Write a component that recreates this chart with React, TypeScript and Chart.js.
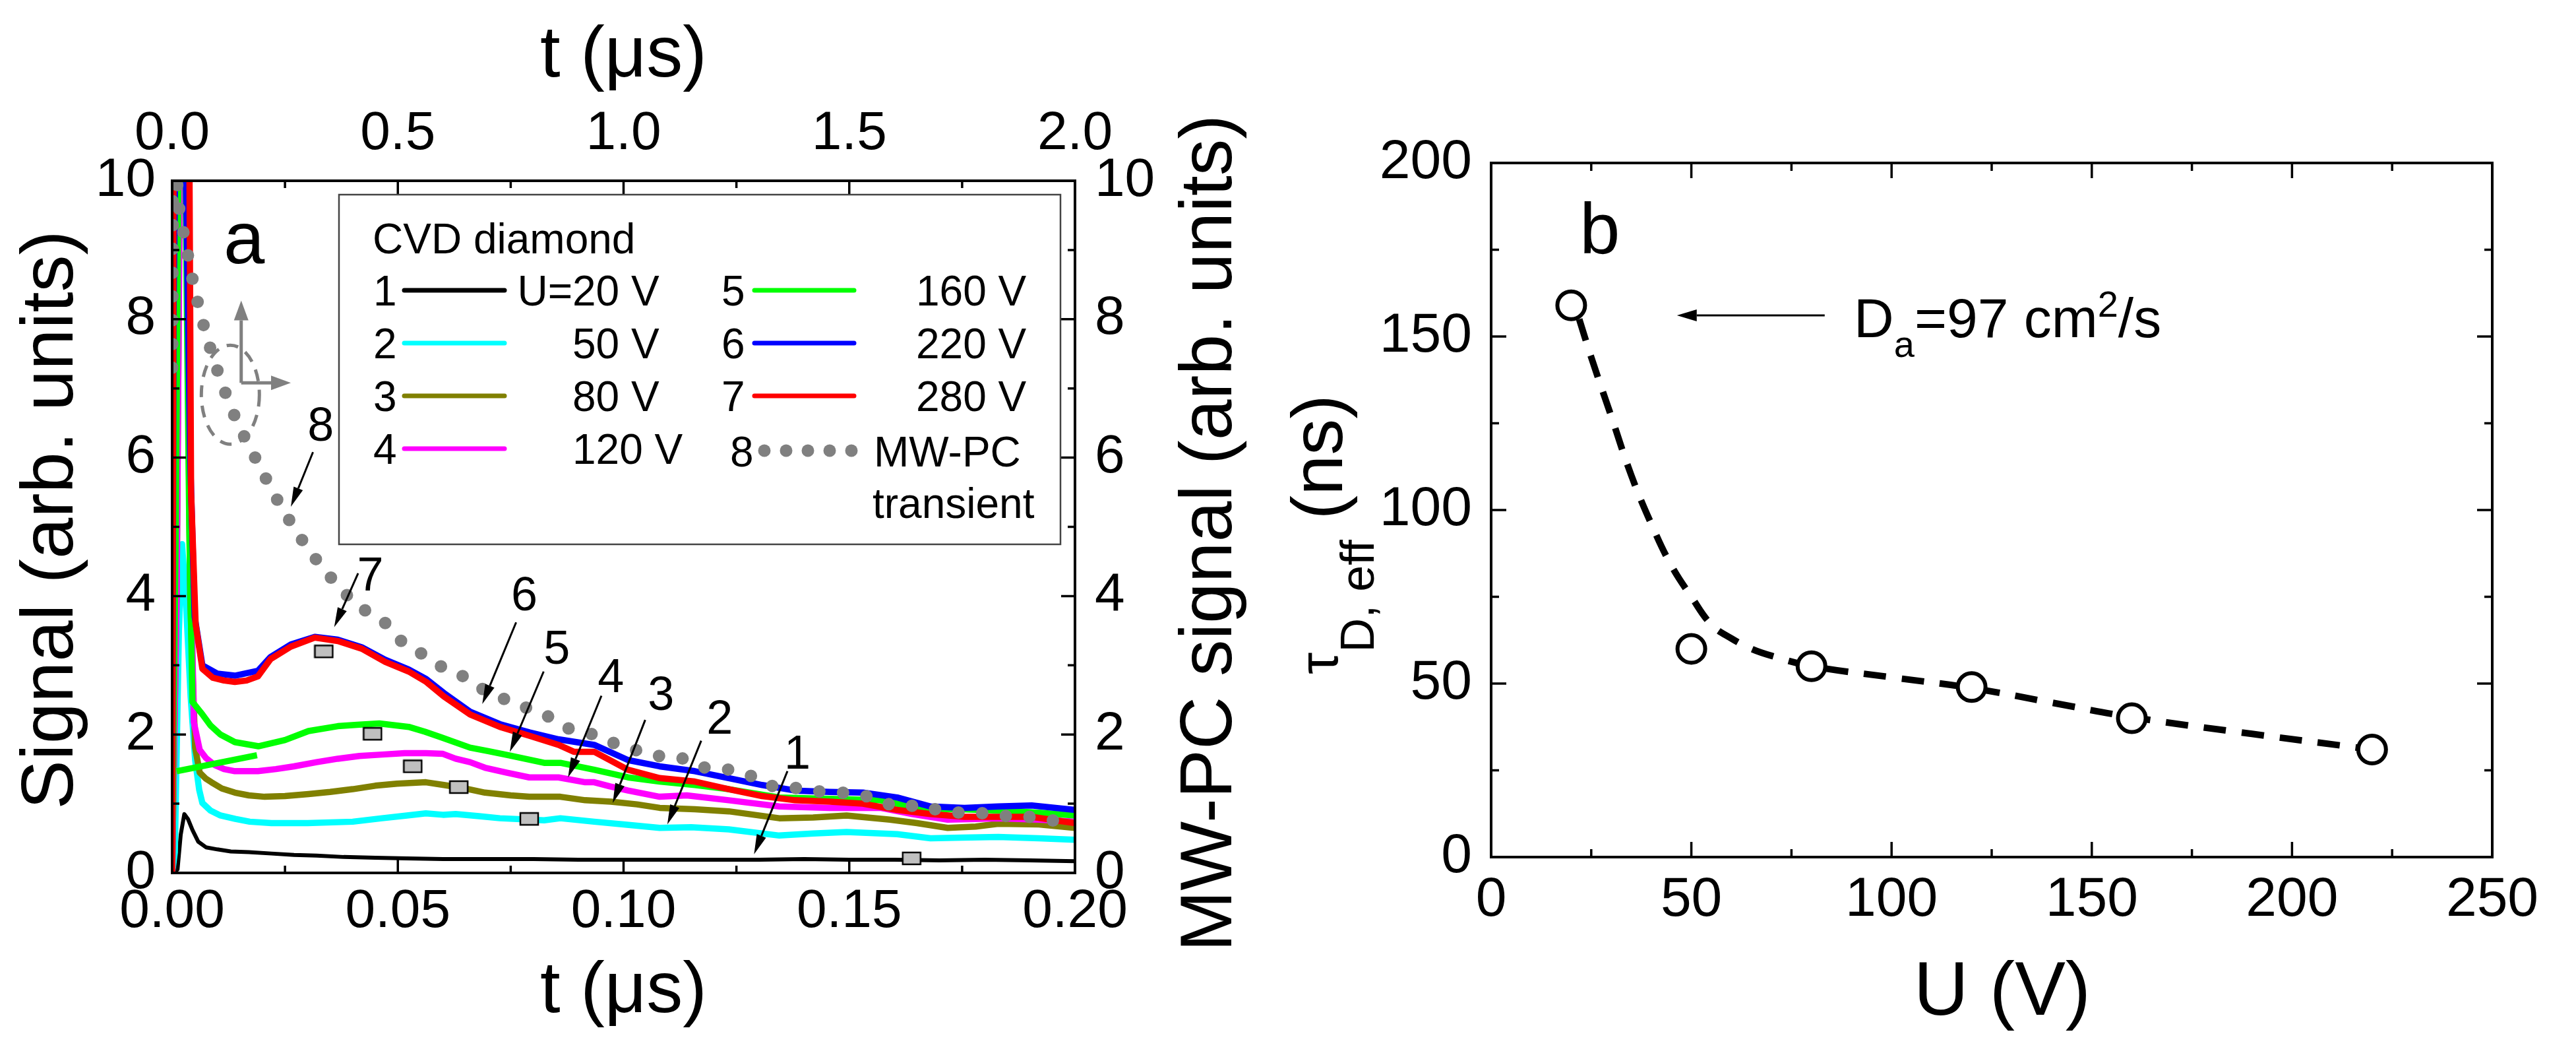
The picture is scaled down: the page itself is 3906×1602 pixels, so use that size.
import React, { useEffect, useRef } from 'react';
import { Chart, registerables } from 'chart.js';

Chart.register(...registerables);

const FONT = "'Liberation Sans', Arial, Helvetica, sans-serif";

// ---------------- Panel (a): signal transients, t in µs (bottom axis) ----------------
const t20 = [0, 0.0012, 0.0019, 0.0027, 0.0035, 0.0045, 0.0058, 0.0075, 0.010, 0.013, 0.017, 0.022, 0.027, 0.032, 0.038, 0.045, 0.052, 0.060, 0.070, 0.080, 0.090, 0.100, 0.110, 0.120, 0.130, 0.140, 0.150, 0.160, 0.170, 0.180, 0.190, 0.200];
const s20 = [0, 0.05, 0.55, 0.85, 0.78, 0.62, 0.45, 0.37, 0.34, 0.31, 0.30, 0.28, 0.26, 0.25, 0.23, 0.22, 0.21, 0.20, 0.20, 0.20, 0.19, 0.19, 0.19, 0.19, 0.19, 0.20, 0.19, 0.19, 0.18, 0.19, 0.18, 0.17];

const t50 = [0, 0.0006, 0.0015, 0.0022, 0.0030, 0.0041, 0.0051, 0.0060, 0.0067, 0.0085, 0.0107, 0.014, 0.0172, 0.022, 0.030, 0.040, 0.0465, 0.052, 0.0562, 0.060, 0.0628, 0.068, 0.0726, 0.0824, 0.086, 0.0935, 0.100, 0.108, 0.115, 0.1233, 0.1345, 0.142, 0.1494, 0.1606, 0.168, 0.175, 0.183, 0.192, 0.200];
const s50 = [0, 0.3, 3.5, 4.75, 4.0, 2.55, 1.63, 1.2, 1.01, 0.90, 0.83, 0.78, 0.74, 0.72, 0.72, 0.74, 0.79, 0.83, 0.86, 0.84, 0.85, 0.82, 0.79, 0.76, 0.79, 0.74, 0.70, 0.65, 0.66, 0.63, 0.54, 0.57, 0.59, 0.56, 0.50, 0.51, 0.52, 0.50, 0.48];

const t80 = [0, 0.0010, 0.0018, 0.0030, 0.0040, 0.0051, 0.0061, 0.0075, 0.0087, 0.0110, 0.0139, 0.0170, 0.0205, 0.025, 0.0302, 0.035, 0.040, 0.045, 0.0498, 0.0562, 0.0602, 0.065, 0.0693, 0.075, 0.0791, 0.086, 0.0915, 0.0972, 0.103, 0.108, 0.1158, 0.1233, 0.1345, 0.142, 0.1494, 0.159, 0.165, 0.1718, 0.178, 0.183, 0.192, 0.200];
const s80 = [0, 4, 11, 11, 4, 1.81, 1.45, 1.36, 1.31, 1.22, 1.16, 1.12, 1.10, 1.11, 1.14, 1.17, 1.21, 1.26, 1.29, 1.31, 1.27, 1.22, 1.16, 1.12, 1.10, 1.10, 1.05, 1.03, 0.99, 0.94, 0.92, 0.89, 0.79, 0.80, 0.83, 0.77, 0.72, 0.65, 0.67, 0.71, 0.70, 0.65];

const t120 = [0, 0.0010, 0.0018, 0.0030, 0.0040, 0.0048, 0.0061, 0.0075, 0.0094, 0.0115, 0.0139, 0.019, 0.023, 0.027, 0.032, 0.0367, 0.0415, 0.0465, 0.0515, 0.0562, 0.0600, 0.0628, 0.066, 0.0693, 0.074, 0.0791, 0.0856, 0.0915, 0.0935, 0.097, 0.101, 0.108, 0.114, 0.1233, 0.1345, 0.1457, 0.1569, 0.164, 0.1718, 0.178, 0.183, 0.192, 0.200];
const s120 = [0, 4, 11, 11, 5, 2.18, 1.78, 1.66, 1.56, 1.50, 1.47, 1.47, 1.50, 1.54, 1.60, 1.65, 1.69, 1.71, 1.73, 1.73, 1.72, 1.65, 1.60, 1.52, 1.45, 1.38, 1.38, 1.31, 1.31, 1.25, 1.19, 1.10, 1.12, 1.05, 0.96, 0.94, 0.94, 0.85, 0.77, 0.78, 0.79, 0.77, 0.74];

const t160 = [0, 0.0008, 0.0015, 0.0028, 0.0038, 0.0045, 0.0067, 0.0085, 0.0107, 0.0139, 0.0191, 0.025, 0.0302, 0.0367, 0.041, 0.0459, 0.0524, 0.056, 0.0596, 0.066, 0.070, 0.0745, 0.0824, 0.086, 0.0935, 0.101, 0.108, 0.1158, 0.1233, 0.1345, 0.140, 0.1457, 0.1569, 0.162, 0.168, 0.175, 0.183, 0.192, 0.200];
const s160 = [0, 5, 11, 11, 5, 2.47, 2.29, 2.13, 2.0, 1.89, 1.83, 1.92, 2.05, 2.12, 2.14, 2.16, 2.11, 2.04, 1.96, 1.81, 1.76, 1.70, 1.59, 1.59, 1.49, 1.38, 1.32, 1.27, 1.21, 1.09, 1.08, 1.07, 1.05, 0.98, 0.92, 0.92, 0.90, 0.87, 0.83];

// short straight green segment near the origin
const t160seg = [0.001, 0.0188];
const s160seg = [1.47, 1.70];

const t220 = [0, 0.0003, 0.0010, 0.0020, 0.0026, 0.0040, 0.0050, 0.0067, 0.0100, 0.0139, 0.019, 0.0218, 0.0263, 0.0316, 0.0367, 0.042, 0.0472, 0.0524, 0.0563, 0.0602, 0.066, 0.0726, 0.0792, 0.0856, 0.0935, 0.101, 0.108, 0.1158, 0.1233, 0.1307, 0.138, 0.1457, 0.153, 0.1606, 0.168, 0.1755, 0.183, 0.1904, 0.200];
const s220 = [0, 8, 12, 12, 12, 6, 3.7, 3.0, 2.88, 2.85, 2.92, 3.12, 3.30, 3.41, 3.37, 3.26, 3.08, 2.94, 2.80, 2.60, 2.33, 2.15, 2.03, 1.93, 1.85, 1.63, 1.54, 1.47, 1.37, 1.27, 1.19, 1.17, 1.16, 1.09, 0.96, 0.94, 0.96, 0.975, 0.91];

const t280 = [0, 0.0003, 0.0010, 0.0020, 0.0030, 0.0037, 0.0042, 0.0052, 0.0067, 0.0090, 0.0115, 0.0139, 0.0165, 0.019, 0.0218, 0.0263, 0.0316, 0.0367, 0.042, 0.0472, 0.0524, 0.0563, 0.0602, 0.066, 0.0726, 0.0792, 0.0856, 0.089, 0.0935, 0.101, 0.108, 0.1158, 0.1233, 0.1307, 0.138, 0.1457, 0.153, 0.1606, 0.168, 0.1755, 0.183, 0.1904, 0.200];
const s280 = [0, 10, 13, 13, 13, 12, 5.5, 3.6, 2.95, 2.82, 2.78, 2.76, 2.78, 2.84, 3.09, 3.27, 3.40, 3.35, 3.24, 3.05, 2.91, 2.76, 2.55, 2.29, 2.11, 1.98, 1.85, 1.75, 1.75, 1.49, 1.37, 1.32, 1.21, 1.11, 1.05, 1.03, 1.00, 0.91, 0.85, 0.81, 0.81, 0.81, 0.72];

// MW-PC transient, t in µs on the top axis, values on the right axis
const tMW = [0, 0.004, 0.0139, 0.031, 0.050, 0.0745, 0.105, 0.1426, 0.191, 0.2435, 0.305, 0.377, 0.426, 0.472, 0.511, 0.557, 0.602, 0.651, 0.697, 0.745, 0.795, 0.843, 0.887, 0.933, 0.981, 1.03, 1.078, 1.127, 1.175, 1.224, 1.27, 1.32, 1.369, 1.416, 1.464, 1.512, 1.561, 1.61, 1.658, 1.706, 1.755, 1.803, 1.852, 1.90, 1.949, 2.0];
const sMW = [7.3, 11, 9.69, 9.06, 8.43, 7.80, 7.17, 6.54, 5.91, 5.27, 4.65, 4.08, 3.80, 3.61, 3.33, 3.15, 2.96, 2.82, 2.62, 2.49, 2.36, 2.23, 2.06, 2.0, 1.87, 1.77, 1.69, 1.66, 1.53, 1.50, 1.44, 1.27, 1.24, 1.19, 1.16, 1.15, 1.06, 0.95, 0.98, 0.89, 0.87, 0.86, 0.82, 0.81, 0.76, 0.72];

// grey rectangular markers on the curves
const markT = [0.0336, 0.0444, 0.0533, 0.0635, 0.0791, 0.1638];
const markS = [3.20, 2.01, 1.54, 1.24, 0.78, 0.21];

const seriesNums = ['1', '2', '3', '4', '5', '6', '7'];
const seriesVolts = ['20 V', '50 V', '80 V', '120 V', '160 V', '220 V', '280 V'];
const seriesColors = ['#000000', '#00ffff', '#808000', '#ff00ff', '#00ff00', '#0000ff', '#ff0000'];

const bottomTicksA = ['0.00', '0.05', '0.10', '0.15', '0.20'];
const topTicksA = ['0.0', '0.5', '1.0', '1.5', '2.0'];

// callout numbers with arrows (bottom-axis µs, left-axis units)
const calloutText = ['8', '7', '6', '5', '4', '3', '2', '1'];
const calloutLabelT = [0.0329, 0.0439, 0.0780, 0.0852, 0.0972, 0.1083, 0.1213, 0.1385];
const calloutLabelS = [6.43, 4.27, 3.98, 3.21, 2.80, 2.54, 2.20, 1.70];
const calloutFromT = [0.0312, 0.0412, 0.0762, 0.0823, 0.0951, 0.1048, 0.1172, 0.1363];
const calloutFromS = [6.08, 4.33, 3.62, 2.91, 2.56, 2.21, 1.91, 1.47];
const calloutToT = [0.0263, 0.0359, 0.0687, 0.0748, 0.0877, 0.0976, 0.1097, 0.1289];
const calloutToS = [5.29, 3.55, 2.44, 1.75, 1.38, 1.01, 0.70, 0.27];

// ---------------- Panel (b) ----------------
const voltageU = [20, 50, 80, 120, 160, 220];
const tauEff = [159, 60, 55, 49, 40, 31];
const fitU = [22, 25, 30, 35, 40, 45, 50, 55, 60, 65, 70, 80, 100, 120, 140, 160, 190, 220];
const fitTau = [155, 144, 127, 110, 96, 84, 75, 67, 63, 60, 58, 55, 51.8, 48.7, 44.5, 40.3, 35.5, 31];

const pts = (xs: number[], ys: number[]) => xs.map((x, i) => ({ x, y: ys[i] }));

function drawTicks(ctx: CanvasRenderingContext2D, scale: any, side: string, a: any, majorLen: number, minorLen: number) {
  const vals: number[] = scale.ticks.map((t: any) => t.value);
  const items: [number, boolean][] = [];
  vals.forEach((v, i) => {
    items.push([v, true]);
    if (i < vals.length - 1) items.push([(v + vals[i + 1]) / 2, false]);
  });
  ctx.beginPath();
  items.forEach(([v, major]) => {
    const p = scale.getPixelForValue(v);
    const len = major ? majorLen : minorLen;
    if (side === 'bottom') { ctx.moveTo(p, a.bottom); ctx.lineTo(p, a.bottom - len); }
    if (side === 'top') { ctx.moveTo(p, a.top); ctx.lineTo(p, a.top + len); }
    if (side === 'left') { ctx.moveTo(a.left, p); ctx.lineTo(a.left + len, p); }
    if (side === 'right') { ctx.moveTo(a.right, p); ctx.lineTo(a.right - len, p); }
  });
  ctx.stroke();
}

function arrow(ctx: CanvasRenderingContext2D, x1: number, y1: number, x2: number, y2: number, color: string, lw: number, hl: number, hw: number) {
  const ang = Math.atan2(y2 - y1, x2 - x1);
  const bx = x2 - hl * Math.cos(ang);
  const by = y2 - hl * Math.sin(ang);
  ctx.strokeStyle = color;
  ctx.fillStyle = color;
  ctx.lineWidth = lw;
  ctx.beginPath();
  ctx.moveTo(x1, y1);
  ctx.lineTo(bx, by);
  ctx.stroke();
  ctx.beginPath();
  ctx.moveTo(x2, y2);
  ctx.lineTo(bx + (hw / 2) * Math.sin(ang), by - (hw / 2) * Math.cos(ang));
  ctx.lineTo(bx - (hw / 2) * Math.sin(ang), by + (hw / 2) * Math.cos(ang));
  ctx.closePath();
  ctx.fill();
}

function rotText(ctx: CanvasRenderingContext2D, text: string, baseX: number, centerY: number, size: number) {
  ctx.save();
  ctx.translate(baseX, centerY);
  ctx.rotate(-Math.PI / 2);
  ctx.font = `${size}px ${FONT}`;
  ctx.textAlign = 'center';
  ctx.textBaseline = 'alphabetic';
  ctx.fillStyle = '#000';
  ctx.fillText(text, 0, 0);
  ctx.restore();
}

function makeRectMarker() {
  const c = document.createElement('canvas');
  c.width = 31;
  c.height = 22;
  const g = c.getContext('2d')!;
  g.fillStyle = '#c0c0c0';
  g.fillRect(2, 2, 27, 18);
  g.strokeStyle = '#000';
  g.lineWidth = 2.5;
  g.strokeRect(2, 2, 27, 18);
  return c;
}

const decorA = {
  id: 'decorA',
  afterDatasetsDraw(chart: any) {
    const ctx: CanvasRenderingContext2D = chart.ctx;
    const a = chart.chartArea;
    const sx = chart.scales.x, sy = chart.scales.y, sx2 = chart.scales.x2, sy2 = chart.scales.y2;
    ctx.save();
    ctx.lineCap = 'butt';
    ctx.strokeStyle = '#000';
    ctx.lineWidth = 3.5;
    drawTicks(ctx, sx, 'bottom', a, 21, 11);
    drawTicks(ctx, sx2, 'top', a, 21, 11);
    drawTicks(ctx, sy, 'left', a, 21, 11);
    drawTicks(ctx, sy2, 'right', a, 21, 11);
    ctx.lineWidth = 4;
    ctx.strokeRect(a.left, a.top, a.right - a.left, a.bottom - a.top);

    // axis titles
    ctx.fillStyle = '#000';
    ctx.font = `110px ${FONT}`;
    ctx.textAlign = 'center';
    ctx.textBaseline = 'alphabetic';
    const cx = (a.left + a.right) / 2;
    ctx.fillText('t (\u03bcs)', cx, 1534);
    ctx.fillText('t (\u03bcs)', cx, 116);
    rotText(ctx, 'Signal (arb. units)', 110, 788, 112);
    rotText(ctx, 'MW-PC signal (arb. units)', 1867, 808, 111);

    // panel letter
    ctx.font = `112px ${FONT}`;
    ctx.textAlign = 'left';
    ctx.fillText('a', sx.getPixelForValue(0.0114), sy.getPixelForValue(8.81));

    // grey axis-indicator icon with dashed ellipse
    const ox = sx.getPixelForValue(0.0153), oy = sy.getPixelForValue(7.08);
    ctx.save();
    ctx.setLineDash([18, 13]);
    ctx.strokeStyle = '#808080';
    ctx.lineWidth = 5;
    ctx.beginPath();
    ctx.ellipse(sx.getPixelForValue(0.0129), sy.getPixelForValue(6.91), 44, 75, 0, 0, Math.PI * 2);
    ctx.stroke();
    ctx.restore();
    arrow(ctx, ox, oy, ox, sy.getPixelForValue(8.27), '#808080', 5, 30, 22);
    arrow(ctx, ox, oy, sx.getPixelForValue(0.0263), oy, '#808080', 5, 30, 22);

    // callouts
    ctx.font = `72px ${FONT}`;
    ctx.textAlign = 'center';
    ctx.textBaseline = 'middle';
    calloutText.forEach((txt, i) => {
      ctx.fillStyle = '#000';
      ctx.fillText(txt, sx.getPixelForValue(calloutLabelT[i]), sy.getPixelForValue(calloutLabelS[i]));
      arrow(ctx, sx.getPixelForValue(calloutFromT[i]), sy.getPixelForValue(calloutFromS[i]),
        sx.getPixelForValue(calloutToT[i]), sy.getPixelForValue(calloutToS[i]), '#000', 3, 30, 15);
    });

    // legend box
    ctx.fillStyle = '#fff';
    ctx.fillRect(514, 295, 1094, 530);
    ctx.strokeStyle = '#444';
    ctx.lineWidth = 2.5;
    ctx.strokeRect(514, 295, 1094, 530);
    ctx.fillStyle = '#000';
    ctx.font = `64px ${FONT}`;
    ctx.textAlign = 'left';
    ctx.textBaseline = 'alphabetic';
    ctx.fillText('CVD diamond', 565, 384);
    seriesNums.forEach((num, i) => {
      const left = i < 4;
      const row = left ? i : i - 4;
      const yc = 440 + 80 * row;
      const base = yc + 23;
      ctx.fillStyle = '#000';
      ctx.textAlign = 'left';
      ctx.fillText(num, left ? 566 : 1094, base);
      ctx.strokeStyle = seriesColors[i];
      ctx.lineWidth = 7;
      ctx.lineCap = 'round';
      ctx.beginPath();
      ctx.moveTo(left ? 613 : 1144, yc);
      ctx.lineTo(left ? 765 : 1295, yc);
      ctx.stroke();
      ctx.lineCap = 'butt';
      ctx.fillText(seriesVolts[i], left ? 868 : 1389, base);
      if (i === 0) {
        ctx.textAlign = 'right';
        ctx.fillText('U=', 868, base);
      }
    });
    ctx.textAlign = 'left';
    ctx.fillText('8', 1107, 707);
    ctx.fillStyle = '#808080';
    for (let k = 0; k < 5; k++) {
      ctx.beginPath();
      ctx.arc(1159 + 33 * k, 683, 9.5, 0, Math.PI * 2);
      ctx.fill();
    }
    ctx.fillStyle = '#000';
    ctx.fillText('MW-PC', 1325, 707);
    ctx.fillText('transient', 1323, 785);
    ctx.restore();
  },
};

const decorB = {
  id: 'decorB',
  afterDatasetsDraw(chart: any) {
    const ctx: CanvasRenderingContext2D = chart.ctx;
    const a = chart.chartArea;
    const sx = chart.scales.x, sy = chart.scales.y;
    ctx.save();
    ctx.strokeStyle = '#000';
    ctx.lineWidth = 3.5;
    drawTicks(ctx, sx, 'bottom', a, 23, 12);
    drawTicks(ctx, sx, 'top', a, 23, 12);
    drawTicks(ctx, sy, 'left', a, 23, 12);
    drawTicks(ctx, sy, 'right', a, 23, 12);
    ctx.lineWidth = 4;
    ctx.strokeRect(a.left, a.top, a.right - a.left, a.bottom - a.top);

    ctx.fillStyle = '#000';
    ctx.font = `115px ${FONT}`;
    ctx.textAlign = 'center';
    ctx.textBaseline = 'alphabetic';
    ctx.fillText('U (V)', (a.left + a.right) / 2 + 16, 1538);

    // y title: tau_{D, eff} (ns), reading bottom to top
    ctx.save();
    ctx.translate(78, 1022);
    ctx.rotate(-Math.PI / 2);
    ctx.textAlign = 'left';
    ctx.font = `84px ${FONT}`;
    ctx.fillText('\u03c4', 0, 0);
    let off = ctx.measureText('\u03c4').width;
    ctx.font = `72px ${FONT}`;
    ctx.fillText('D, eff', off, 55);
    off += ctx.measureText('D, eff').width;
    ctx.font = `110px ${FONT}`;
    ctx.fillText(' (ns)', off, 7);
    ctx.restore();

    // panel letter
    ctx.font = `110px ${FONT}`;
    ctx.textAlign = 'left';
    ctx.fillText('b', sx.getPixelForValue(22.1), sy.getPixelForValue(174));

    // D_a annotation
    arrow(ctx, sx.getPixelForValue(83.3), sy.getPixelForValue(156.1), sx.getPixelForValue(46.4), sy.getPixelForValue(156.1), '#000', 3, 30, 18);
    let x = sx.getPixelForValue(90.6);
    const base = sy.getPixelForValue(149.8);
    ctx.fillStyle = '#000';
    ctx.font = `84px ${FONT}`;
    ctx.fillText('D', x, base);
    x += ctx.measureText('D').width;
    ctx.font = `56px ${FONT}`;
    ctx.fillText('a', x, base + 30);
    x += ctx.measureText('a').width;
    ctx.font = `84px ${FONT}`;
    ctx.fillText('=97 cm', x, base);
    x += ctx.measureText('=97 cm').width;
    ctx.font = `56px ${FONT}`;
    ctx.fillText('2', x, base - 31);
    x += ctx.measureText('2').width;
    ctx.font = `84px ${FONT}`;
    ctx.fillText('/s', x, base);
    ctx.restore();
  },
};

const tickFont = (size: number) => ({ family: FONT, size });

export default function App() {
  const refA = useRef<HTMLCanvasElement>(null);
  const refB = useRef<HTMLCanvasElement>(null);

  useEffect(() => {
    const rectMarker = makeRectMarker();
    const lineDs = (label: string, xs: number[], ys: number[], color: string, width: number, order: number) => ({
      label,
      data: pts(xs, ys),
      borderColor: color,
      backgroundColor: color,
      borderWidth: width,
      pointRadius: 0,
      tension: 0,
      fill: false,
      clip: 0,
      order,
      xAxisID: 'x',
      yAxisID: 'y',
      borderJoinStyle: 'round' as const,
    });

    const chartA = new Chart(refA.current!, {
      type: 'line',
      data: {
        datasets: [
          lineDs('1', t20, s20, seriesColors[0], 6, 9),
          lineDs('2', t50, s50, seriesColors[1], 9.5, 8),
          lineDs('3', t80, s80, seriesColors[2], 9.5, 7),
          lineDs('4', t120, s120, seriesColors[3], 9.5, 6),
          lineDs('5', t160, s160, seriesColors[4], 9.5, 5),
          lineDs('5b', t160seg, s160seg, seriesColors[4], 9.5, 4),
          lineDs('6', t220, s220, seriesColors[5], 9.5, 3),
          lineDs('7', t280, s280, seriesColors[6], 9.5, 2),
          {
            label: '8',
            data: pts(tMW, sMW),
            borderColor: '#808080',
            borderWidth: 19,
            borderDash: [0, 36],
            borderCapStyle: 'round',
            pointRadius: 0,
            tension: 0.3,
            fill: false,
            clip: 0,
            order: 1,
            xAxisID: 'x2',
            yAxisID: 'y2',
          },
          {
            label: 'markers',
            data: pts(markT, markS),
            showLine: false,
            pointStyle: rectMarker,
            pointRadius: 10,
            clip: 0,
            order: 0,
            xAxisID: 'x',
            yAxisID: 'y',
          },
        ] as any,
      },
      options: {
        responsive: false,
        animation: false,
        devicePixelRatio: 1,
        layout: { padding: 0 },
        plugins: { legend: { display: false }, tooltip: { enabled: false } },
        events: [],
        scales: {
          x: {
            type: 'linear', position: 'bottom', min: 0, max: 0.2,
            afterFit: (s: any) => { s.height = 279; },
            grid: { display: false, drawTicks: false }, border: { display: false },
            ticks: { stepSize: 0.05, font: tickFont(82), color: '#000', padding: 10, maxRotation: 0, autoSkip: false,
              callback: (_v: any, i: number) => bottomTicksA[i] },
          },
          x2: {
            type: 'linear', position: 'top', min: 0, max: 2,
            afterFit: (s: any) => { s.height = 274; },
            grid: { display: false, drawTicks: false }, border: { display: false },
            ticks: { stepSize: 0.5, font: tickFont(82), color: '#000', padding: 21, maxRotation: 0, autoSkip: false,
              callback: (_v: any, i: number) => topTicksA[i] },
          },
          y: {
            type: 'linear', position: 'left', min: 0, max: 10,
            afterFit: (s: any) => { s.width = 261; },
            grid: { display: false, drawTicks: false }, border: { display: false },
            ticks: { stepSize: 2, font: tickFont(82), color: '#000', padding: 25 },
          },
          y2: {
            type: 'linear', position: 'right', min: 0, max: 10,
            afterFit: (s: any) => { s.width = 320; },
            grid: { display: false, drawTicks: false }, border: { display: false },
            ticks: { stepSize: 2, font: tickFont(82), color: '#000', padding: 30 },
          },
        },
      } as any,
      plugins: [decorA],
    });

    const chartB = new Chart(refB.current!, {
      type: 'line',
      data: {
        datasets: [
          {
            label: 'fit',
            data: pts(fitU, fitTau),
            borderColor: '#000',
            borderWidth: 10,
            borderDash: [34, 24],
            pointRadius: 0,
            tension: 0.4,
            fill: false,
            clip: 0,
            order: 2,
          },
          {
            label: 'tau',
            data: pts(voltageU, tauEff),
            showLine: false,
            pointStyle: 'circle',
            pointRadius: 21,
            pointBorderWidth: 6,
            pointBorderColor: '#000',
            pointBackgroundColor: '#fff',
            clip: 0,
            order: 1,
          },
        ] as any,
      },
      options: {
        responsive: false,
        animation: false,
        devicePixelRatio: 1,
        layout: { padding: 0 },
        plugins: { legend: { display: false }, tooltip: { enabled: false } },
        events: [],
        scales: {
          x: {
            type: 'linear', position: 'bottom', min: 0, max: 250,
            afterFit: (s: any) => { s.height = 303; },
            grid: { display: false, drawTicks: false }, border: { display: false },
            ticks: { stepSize: 50, font: tickFont(84), color: '#000', padding: 15, maxRotation: 0, autoSkip: false },
          },
          xTop: {
            type: 'linear', position: 'top', min: 0, max: 250,
            afterFit: (s: any) => { s.height = 247; },
            grid: { display: false, drawTicks: false }, border: { display: false },
            ticks: { display: false },
          },
          y: {
            type: 'linear', position: 'left', min: 0, max: 200,
            afterFit: (s: any) => { s.width = 311; },
            grid: { display: false, drawTicks: false }, border: { display: false },
            ticks: { stepSize: 50, font: tickFont(84), color: '#000', padding: 29 },
          },
          yRight: {
            type: 'linear', position: 'right', min: 0, max: 200,
            afterFit: (s: any) => { s.width = 127; },
            grid: { display: false, drawTicks: false }, border: { display: false },
            ticks: { display: false },
          },
        },
      } as any,
      plugins: [decorB],
    });

    return () => {
      chartA.destroy();
      chartB.destroy();
    };
  }, []);

  return (
    <div style={{ position: 'fixed', left: 0, top: 0, width: 3906, height: 1602, background: '#fff', overflow: 'hidden' }}>
      <div style={{ position: 'absolute', left: 0, top: 0, width: 1950, height: 1602 }}>
        <canvas ref={refA} width={1950} height={1602} style={{ display: 'block', width: 1950, height: 1602 }} />
      </div>
      <div style={{ position: 'absolute', left: 1950, top: 0, width: 1956, height: 1602 }}>
        <canvas ref={refB} width={1956} height={1602} style={{ display: 'block', width: 1956, height: 1602 }} />
      </div>
    </div>
  );
}
